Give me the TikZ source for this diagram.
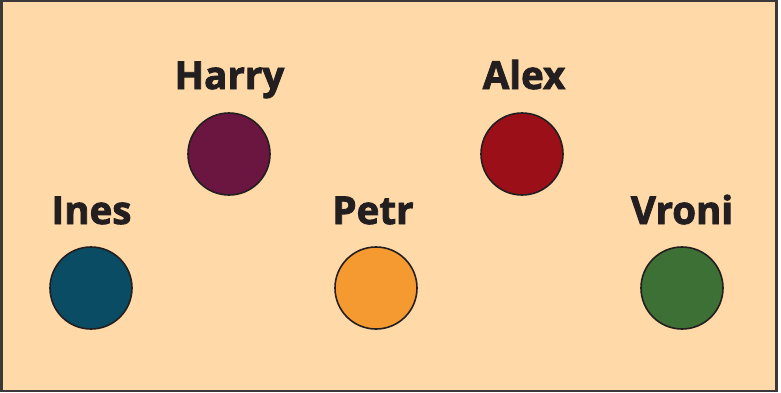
\documentclass[tikz,border=0pt]{standalone}
\usepackage{fontspec}
\setmainfont{Open Sans}
\newfontfamily\labelfont{Open Sans}[FakeBold=2.2]
\definecolor{bgpeach}{HTML}{FFD9A8}
\definecolor{framecol}{HTML}{3A3838}
\definecolor{inkcol}{HTML}{231F20}
\definecolor{harrycol}{HTML}{6B1541}
\definecolor{alexcol}{HTML}{9B0F18}
\definecolor{inescol}{HTML}{0A4C63}
\definecolor{petrcol}{HTML}{F49A31}
\definecolor{vronicol}{HTML}{3D7035}
\tikzset{
  person/.style={circle, draw=inkcol, line width=1.6pt, minimum size=82pt, inner sep=0pt},
  namelabel/.style={anchor=base, inner sep=0pt, text=inkcol, font=\labelfont\fontsize{38.5}{41}\selectfont\bfseries}
}
\begin{document}
\begin{tikzpicture}[x=1pt,y=-1pt]
\useasboundingbox (0,0) rectangle (781,392);
\fill[white] (0,0) rectangle (781,392);
\draw[fill=bgpeach, draw=framecol, line width=2.4pt] (1.3,1.2) rectangle (776.4,390.7);
\node[person, fill=harrycol] (harry) at (229,154) {};
\node[person, fill=alexcol] (alex) at (522,154) {};
\node[person, fill=inescol] (ines) at (91,288) {};
\node[person, fill=petrcol] (petr) at (376,288) {};
\node[person, fill=vronicol] (vroni) at (682,288) {};
\node[namelabel] (harrylab) at (229.5,89) {Harry};
\node[namelabel] (alexlab) at (524,89) {Alex};
\node[namelabel] (ineslab) at (91.5,224) {Ines};
\node[namelabel] (petrlab) at (373,224) {Petr};
\node[namelabel] (vronilab) at (682,224) {Vroni};
\end{tikzpicture}
\end{document}
